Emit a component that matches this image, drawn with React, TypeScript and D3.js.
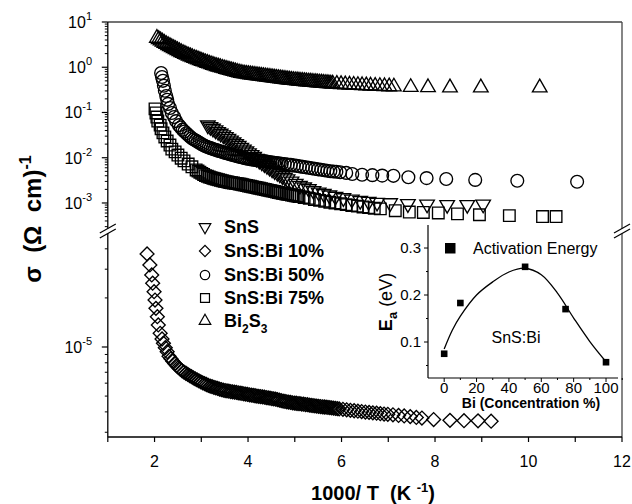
import React from "react";
import * as d3 from "d3";

const W = 632;
const H = 504;
const FONT = "'Liberation Sans', Arial, sans-serif";

const snsLog: [number, number][] = [
  [3.14, -1.28], [3.195, -1.317], [3.25, -1.353], [3.305, -1.39], [3.36, -1.427], [3.415, -1.463],
  [3.47, -1.5], [3.525, -1.538], [3.58, -1.577], [3.635, -1.616], [3.69, -1.656], [3.745, -1.695],
  [3.8, -1.734], [3.855, -1.774], [3.91, -1.815], [3.965, -1.855], [4.02, -1.896], [4.075, -1.937],
  [4.13, -1.978], [4.185, -2.019], [4.24, -2.059], [4.295, -2.098], [4.35, -2.137], [4.405, -2.176],
  [4.46, -2.216], [4.515, -2.255], [4.57, -2.293], [4.625, -2.329], [4.68, -2.365], [4.735, -2.401],
  [4.79, -2.437], [4.845, -2.473], [4.93, -2.52], [5.02, -2.57], [5.11, -2.615], [5.2, -2.652],
  [5.3, -2.69], [5.4, -2.73], [5.51, -2.764], [5.62, -2.796], [5.74, -2.828], [5.87, -2.857],
  [6.04, -2.89], [6.22, -2.92], [6.4, -2.95], [6.58, -2.97], [6.76, -2.99], [7.04, -3.0],
  [7.42, -3.02], [7.83, -3.03], [8.26, -3.04], [8.69, -3.04], [9.03, -3.03],
];

const bi10Log: [number, number][] = [
  [1.84, -4.429], [1.9, -4.497], [1.94, -4.558], [1.96, -4.609], [1.99, -4.661], [2.01, -4.712],
  [2.03, -4.763], [2.06, -4.814], [2.08, -4.865], [2.12, -4.916], [2.16, -4.951], [2.19, -4.977],
  [2.23, -5.004], [2.27, -5.029], [2.31, -5.056], [2.35, -5.072], [2.39, -5.087], [2.43, -5.101],
  [2.47, -5.114], [2.51, -5.125], [2.55, -5.136], [2.59, -5.146], [2.63, -5.154], [2.67, -5.161],
  [2.71, -5.168], [2.75, -5.176], [2.79, -5.182], [2.83, -5.189], [2.87, -5.196], [2.91, -5.202],
  [2.95, -5.208], [2.99, -5.214], [3.03, -5.22], [3.07, -5.225], [3.11, -5.23], [3.15, -5.236],
  [3.19, -5.24], [3.23, -5.243], [3.27, -5.247], [3.31, -5.251], [3.35, -5.254], [3.39, -5.258],
  [3.43, -5.261], [3.47, -5.265], [3.51, -5.267], [3.55, -5.269], [3.59, -5.271], [3.63, -5.273],
  [3.67, -5.275], [3.71, -5.277], [3.75, -5.279], [3.79, -5.281], [3.83, -5.283], [3.87, -5.285],
  [3.91, -5.287], [3.95, -5.289], [3.99, -5.291], [4.03, -5.293], [4.07, -5.295], [4.11, -5.297],
  [4.15, -5.299], [4.19, -5.301], [4.23, -5.303], [4.27, -5.304], [4.31, -5.306], [4.35, -5.308],
  [4.39, -5.31], [4.43, -5.312], [4.47, -5.314], [4.51, -5.316], [4.55, -5.318], [4.59, -5.32],
  [4.63, -5.323], [4.67, -5.326], [4.71, -5.329], [4.75, -5.332], [4.79, -5.334], [4.83, -5.336],
  [4.87, -5.338], [4.91, -5.34], [4.95, -5.342], [4.99, -5.344], [5.03, -5.345], [5.07, -5.347],
  [5.11, -5.348], [5.15, -5.35], [5.19, -5.351], [5.23, -5.353], [5.27, -5.354], [5.31, -5.356],
  [5.35, -5.358], [5.39, -5.359], [5.43, -5.361], [5.47, -5.362], [5.51, -5.364], [5.55, -5.365],
  [5.59, -5.367], [5.63, -5.368], [5.67, -5.369], [5.71, -5.371], [5.75, -5.372], [5.79, -5.374],
  [5.83, -5.375], [5.87, -5.377], [5.91, -5.378], [5.95, -5.38], [6.03, -5.382], [6.11, -5.385],
  [6.19, -5.388], [6.27, -5.391], [6.35, -5.394], [6.43, -5.396], [6.51, -5.399], [6.59, -5.401],
  [6.67, -5.404], [6.75, -5.406], [6.83, -5.409], [6.91, -5.411], [6.99, -5.413], [7.1, -5.416],
  [7.22, -5.42], [7.34, -5.423], [7.47, -5.427], [7.6, -5.432], [7.72, -5.436], [7.97, -5.445],
  [8.32, -5.45], [8.62, -5.452], [8.92, -5.453], [9.2, -5.455],
];

const bi50Log: [number, number][] = [
  [2.14, -0.127], [2.16, -0.215], [2.18, -0.3], [2.2, -0.41], [2.22, -0.52], [2.25, -0.635],
  [2.27, -0.72], [2.29, -0.81], [2.33, -0.9], [2.37, -1.01], [2.42, -1.1], [2.46, -1.19], [2.52, -1.28],
  [2.56, -1.33], [2.6, -1.38], [2.64, -1.42], [2.68, -1.46], [2.72, -1.5], [2.76, -1.535], [2.8, -1.57],
  [2.84, -1.597], [2.88, -1.62], [2.92, -1.645], [2.96, -1.67], [3.0, -1.695], [3.04, -1.72],
  [3.08, -1.74], [3.12, -1.757], [3.16, -1.773], [3.2, -1.788], [3.24, -1.803], [3.28, -1.818],
  [3.32, -1.831], [3.36, -1.844], [3.4, -1.856], [3.44, -1.869], [3.48, -1.882], [3.52, -1.894],
  [3.56, -1.907], [3.6, -1.92], [3.64, -1.931], [3.68, -1.942], [3.72, -1.953], [3.76, -1.964],
  [3.8, -1.975], [3.84, -1.985], [3.88, -1.996], [3.92, -2.007], [3.96, -2.016], [4.0, -2.023],
  [4.04, -2.03], [4.08, -2.037], [4.12, -2.045], [4.16, -2.051], [4.2, -2.057], [4.24, -2.062],
  [4.28, -2.068], [4.32, -2.073], [4.36, -2.079], [4.4, -2.085], [4.44, -2.093], [4.48, -2.1],
  [4.52, -2.105], [4.56, -2.111], [4.6, -2.116], [4.64, -2.122], [4.68, -2.127], [4.72, -2.133],
  [4.785, -2.142], [4.85, -2.15], [4.915, -2.159], [4.98, -2.17], [5.045, -2.181], [5.11, -2.192],
  [5.175, -2.203], [5.24, -2.213], [5.305, -2.224], [5.37, -2.235], [5.435, -2.246], [5.5, -2.257],
  [5.565, -2.267], [5.63, -2.278], [5.695, -2.289], [5.76, -2.3], [5.825, -2.305], [5.89, -2.31],
  [5.97, -2.32], [6.1, -2.335], [6.23, -2.36], [6.44, -2.375], [6.66, -2.385], [6.87, -2.395],
  [7.11, -2.4], [7.43, -2.43], [7.82, -2.45], [8.24, -2.47], [8.86, -2.49], [9.76, -2.51], [11.04, -2.53],
];

const bi75Log: [number, number][] = [
  [2.01, -0.92], [2.03, -1.01], [2.05, -1.1], [2.07, -1.19], [2.12, -1.28], [2.14, -1.36], [2.18, -1.45],
  [2.22, -1.54], [2.27, -1.63], [2.33, -1.72], [2.37, -1.81], [2.44, -1.87], [2.5, -1.94], [2.57, -2.01],
  [2.63, -2.07], [2.72, -2.14], [2.8, -2.2], [2.89, -2.27], [2.93, -2.295], [2.97, -2.32], [3.01, -2.345],
  [3.05, -2.37], [3.09, -2.395], [3.13, -2.41], [3.17, -2.426], [3.21, -2.44], [3.25, -2.452],
  [3.29, -2.465], [3.33, -2.477], [3.37, -2.488], [3.41, -2.498], [3.45, -2.508], [3.49, -2.518],
  [3.53, -2.528], [3.57, -2.538], [3.61, -2.546], [3.65, -2.553], [3.69, -2.56], [3.73, -2.567],
  [3.77, -2.573], [3.81, -2.58], [3.85, -2.587], [3.89, -2.596], [3.93, -2.605], [3.97, -2.614],
  [4.01, -2.623], [4.05, -2.632], [4.09, -2.641], [4.13, -2.649], [4.17, -2.658], [4.21, -2.667],
  [4.25, -2.676], [4.29, -2.685], [4.33, -2.694], [4.37, -2.703], [4.41, -2.712], [4.45, -2.721],
  [4.49, -2.729], [4.53, -2.738], [4.57, -2.747], [4.61, -2.757], [4.65, -2.767], [4.69, -2.776],
  [4.73, -2.784], [4.77, -2.792], [4.81, -2.8], [4.85, -2.808], [4.89, -2.816], [4.93, -2.824],
  [4.97, -2.832], [5.01, -2.84], [5.05, -2.848], [5.09, -2.856], [5.2, -2.877], [5.31, -2.898],
  [5.42, -2.922], [5.53, -2.942], [5.64, -2.962], [5.75, -2.982], [5.86, -3.0], [5.98, -3.017],
  [6.1, -3.036], [6.22, -3.054], [6.34, -3.07], [6.46, -3.087], [6.58, -3.103], [6.7, -3.117],
  [6.83, -3.13], [7.15, -3.17], [7.45, -3.2], [7.75, -3.21], [8.07, -3.22], [8.48, -3.24], [8.95, -3.26],
  [9.59, -3.28], [10.3, -3.3], [10.59, -3.3],
];

const bi2s3Log: [number, number][] = [
  [2.05, 0.646], [2.09, 0.618], [2.13, 0.589], [2.17, 0.561], [2.21, 0.534], [2.25, 0.51], [2.29, 0.486],
  [2.33, 0.462], [2.37, 0.439], [2.41, 0.417], [2.45, 0.395], [2.49, 0.373], [2.53, 0.351], [2.57, 0.33],
  [2.61, 0.311], [2.65, 0.292], [2.69, 0.273], [2.73, 0.254], [2.77, 0.235], [2.81, 0.218], [2.85, 0.201],
  [2.89, 0.185], [2.93, 0.169], [2.97, 0.152], [3.01, 0.136], [3.05, 0.122], [3.09, 0.107], [3.13, 0.092],
  [3.17, 0.078], [3.21, 0.063], [3.25, 0.048], [3.29, 0.034], [3.33, 0.021], [3.37, 0.009], [3.41, -0.003],
  [3.45, -0.015], [3.49, -0.027], [3.53, -0.039], [3.57, -0.051], [3.61, -0.063], [3.65, -0.074],
  [3.69, -0.085], [3.73, -0.096], [3.77, -0.108], [3.81, -0.119], [3.85, -0.13], [3.89, -0.136],
  [3.93, -0.143], [3.97, -0.149], [4.01, -0.156], [4.05, -0.162], [4.09, -0.168], [4.13, -0.174],
  [4.17, -0.179], [4.21, -0.185], [4.25, -0.19], [4.29, -0.195], [4.33, -0.201], [4.37, -0.206],
  [4.41, -0.211], [4.45, -0.217], [4.49, -0.223], [4.53, -0.228], [4.57, -0.234], [4.61, -0.239],
  [4.65, -0.245], [4.69, -0.251], [4.73, -0.256], [4.77, -0.262], [4.81, -0.267], [4.85, -0.273],
  [4.89, -0.279], [4.93, -0.283], [4.97, -0.287], [5.01, -0.291], [5.05, -0.295], [5.09, -0.299],
  [5.13, -0.303], [5.17, -0.307], [5.21, -0.311], [5.25, -0.315], [5.29, -0.319], [5.33, -0.323],
  [5.37, -0.327], [5.41, -0.331], [5.45, -0.334], [5.49, -0.338], [5.53, -0.341], [5.57, -0.345],
  [5.61, -0.349], [5.65, -0.352], [5.69, -0.356], [5.73, -0.359], [5.77, -0.363], [5.81, -0.366],
  [5.9, -0.372], [5.99, -0.377], [6.08, -0.382], [6.17, -0.387], [6.26, -0.391], [6.35, -0.396],
  [6.44, -0.401], [6.53, -0.406], [6.62, -0.411], [6.72, -0.415], [6.82, -0.419], [6.92, -0.423],
  [7.02, -0.427], [7.12, -0.43], [7.48, -0.44], [7.85, -0.445], [8.32, -0.45], [8.98, -0.45], [10.24, -0.45],
];

const legendLabels = ["SnS", "SnS:Bi 10%", "SnS:Bi 50%", "SnS:Bi 75%", "Bi2S3"];

// axis ticks
const xMajor = [2, 4, 6, 8, 10, 12];
const xMinor = [1, 3, 5, 7, 9, 11];
const upperMajor = [10, 1, 0.1, 0.01, 0.001];
const upperExp = ["1", "0", "-1", "-2", "-3"];
const lowerMajor = [1e-5];
const lowerExp = ["-5"];

// inset: activation energy vs Bi concentration
const insetConc = [0, 10, 50, 75, 100];
const insetEa = [0.075, 0.183, 0.26, 0.17, 0.057];
const fitConc = [0, 5, 10, 20, 30, 40, 50, 60, 70, 80, 90, 100];
const fitEa = [0.085, 0.125, 0.155, 0.2, 0.228, 0.249, 0.257, 0.243, 0.204, 0.151, 0.101, 0.058];
const insetXTicks = [0, 20, 40, 60, 80, 100];
const insetYTicks = [0.1, 0.2, 0.3];

const x = d3.scaleLinear().domain([1, 12]).range([107.8, 622]);
const yUp = d3.scaleLog().domain([Math.pow(10, -3.553), 10]).range([228, 22]);
const yLo = d3.scaleLog().domain([Math.pow(10, -5.552), Math.pow(10, -4.307)]).range([437, 234]);

const xIn = d3.scaleLinear().domain([-10, 107.4]).range([428, 618]);
const yIn = d3.scaleLinear().domain([0.0234, 0.349]).range([378, 225]);

const toSigma = (arr: [number, number][]) => arr.map(([t, l]) => [t, Math.pow(10, l)] as [number, number]);

const minorLog = (lo: number, hi: number) => {
  const out: number[] = [];
  for (let e = Math.floor(Math.log10(lo)); e <= Math.ceil(Math.log10(hi)); e++) {
    for (let k = 2; k <= 9; k++) {
      const v = k * Math.pow(10, e);
      if (v >= lo && v <= hi) out.push(v);
    }
  }
  return out;
};

const triUp = d3.symbol(d3.symbolTriangle, 92)()!;
const circle = d3.symbol(d3.symbolCircle, 128)()!;
const square = d3.symbol(d3.symbolSquare, 134)()!;
const diamond = d3.symbol(d3.symbolSquare, 96)()!;

const triUpSm = d3.symbol(d3.symbolTriangle, 58)()!;
const circleSm = d3.symbol(d3.symbolCircle, 70)()!;
const squareSm = d3.symbol(d3.symbolSquare, 80)()!;
const diamondSm = d3.symbol(d3.symbolSquare, 62)()!;

const markerStyle = { fill: "none", stroke: "#000", strokeWidth: 1.35 };
const legendMarker = { fill: "none", stroke: "#000", strokeWidth: 1.2 };

function Series({ data, y, path, rotate }: { data: [number, number][]; y: any; path: string; rotate: number }) {
  return (
    <g>
      {toSigma(data).map((d, i) => (
        <path key={i} d={path} transform={`translate(${x(d[0])},${y(d[1])}) rotate(${rotate})`} {...markerStyle} />
      ))}
    </g>
  );
}

function BreakMark({ cx, cy }: { cx: number; cy: number }) {
  const a = 8, b = 4.5, g = 2.6;
  return (
    <g>
      <polygon points={`${cx - a},${cy - g + b} ${cx + a},${cy - g - b} ${cx + a},${cy + g - b} ${cx - a},${cy + g + b}`} fill="#fff" />
      <line x1={cx - a} y1={cy - g + b} x2={cx + a} y2={cy - g - b} stroke="#000" strokeWidth={1.2} />
      <line x1={cx - a} y1={cy + g + b} x2={cx + a} y2={cy + g - b} stroke="#000" strokeWidth={1.2} />
    </g>
  );
}

export default function App() {
  const x0 = x.range()[0];
  const x1 = x.range()[1];
  const top = 22;
  const bottom = 437;
  const upMinor = minorLog(yUp.domain()[0], yUp.domain()[1]);
  const loMinor = minorLog(yLo.domain()[0], yLo.domain()[1]);

  const fitLine = d3
    .line<number>()
    .x((_, i) => xIn(fitConc[i]))
    .y((d) => yIn(d))
    .curve(d3.curveCatmullRom.alpha(0.5));

  const legendY = [227, 251, 275, 298, 321];
  const legendSyms = [
    { p: triUpSm, r: 180 },
    { p: diamondSm, r: 45 },
    { p: circleSm, r: 0 },
    { p: squareSm, r: 0 },
    { p: triUpSm, r: 0 },
  ];

  return (
    <svg width={W} height={H} style={{ position: "absolute", left: 0, top: 0, background: "#fff" }} fontFamily={FONT}>
      {/* data */}
      <Series data={bi10Log} y={yLo} path={diamond} rotate={45} />
      <Series data={snsLog} y={yUp} path={triUp} rotate={180} />
      <Series data={bi75Log} y={yUp} path={square} rotate={0} />
      <Series data={bi50Log} y={yUp} path={circle} rotate={0} />
      <Series data={bi2s3Log} y={yUp} path={triUp} rotate={0} />

      {/* frame */}
      <line x1={x0} y1={top} x2={x1} y2={top} stroke="#444" strokeWidth={1.3} />
      <line x1={x1} y1={top} x2={x1} y2={bottom} stroke="#444" strokeWidth={1.3} />
      <line x1={x0} y1={top} x2={x0} y2={bottom} stroke="#000" strokeWidth={1.3} />
      <line x1={x0} y1={bottom} x2={x1} y2={bottom} stroke="#000" strokeWidth={1.3} />

      {/* x ticks */}
      {xMajor.concat(xMinor).map((t) => (
        <line key={"xt" + t} x1={x(t)} x2={x(t)} y1={bottom} y2={bottom + 5} stroke="#000" strokeWidth={1.2} />
      ))}
      {xMajor.map((t) => (
        <text key={"xl" + t} x={x(t)} y={467} fontSize={16} textAnchor="middle">{t}</text>
      ))}

      {/* y ticks, upper segment */}
      {upperMajor.map((t) => (
        <line key={"um" + t} x1={x0 - 6} x2={x0} y1={yUp(t)} y2={yUp(t)} stroke="#000" strokeWidth={1.2} />
      ))}
      {upMinor.map((t, i) => (
        <line key={"un" + i} x1={x0 - 3} x2={x0} y1={yUp(t)} y2={yUp(t)} stroke="#000" strokeWidth={1} />
      ))}
      {upperMajor.map((t, i) => (
        <text key={"ul" + t} x={92} y={yUp(t) + 6} fontSize={16} textAnchor="end">
          10<tspan dy={-8} fontSize={11}>{upperExp[i]}</tspan>
        </text>
      ))}

      {/* y ticks, lower segment */}
      {lowerMajor.map((t) => (
        <line key={"lm" + t} x1={x0 - 6} x2={x0} y1={yLo(t)} y2={yLo(t)} stroke="#000" strokeWidth={1.2} />
      ))}
      {loMinor.map((t, i) => (
        <line key={"ln" + i} x1={x0 - 3} x2={x0} y1={yLo(t)} y2={yLo(t)} stroke="#000" strokeWidth={1} />
      ))}
      {lowerMajor.map((t, i) => (
        <text key={"ll" + t} x={92} y={yLo(t) + 6} fontSize={16} textAnchor="end">
          10<tspan dy={-8} fontSize={11}>{lowerExp[i]}</tspan>
        </text>
      ))}

      <BreakMark cx={x0} cy={231} />
      <BreakMark cx={x1} cy={231} />

      {/* axis titles */}
      <text x={373} y={500} fontSize={20} fontWeight="bold" textAnchor="middle" style={{ whiteSpace: "pre" }}>
        {"1000/ T  (K "}<tspan dy={-8} fontSize={13}>-1</tspan><tspan dy={8}>)</tspan>
      </text>
      <text transform="translate(41,219) rotate(-90)" fontSize={24} fontWeight="bold" textAnchor="middle" style={{ whiteSpace: "pre" }}>
        {"σ  (Ω  cm)"}<tspan dy={-10} fontSize={16}>-1</tspan>
      </text>

      {/* legend */}
      {legendLabels.map((lab, i) => (
        <g key={lab}>
          <path d={legendSyms[i].p} transform={`translate(205,${legendY[i]}) rotate(${legendSyms[i].r})`} {...legendMarker} />
          {lab === "Bi2S3" ? (
            <text x={224} y={legendY[i] + 6} fontSize={18} fontWeight="bold">
              Bi<tspan dy={6} fontSize={12}>2</tspan><tspan dy={-6}>S</tspan><tspan dy={6} fontSize={12}>3</tspan>
            </text>
          ) : (
            <text x={224} y={legendY[i] + 6} fontSize={18} fontWeight="bold">{lab}</text>
          )}
        </g>
      ))}

      {/* inset */}
      <g>
        <line x1={xIn.range()[0]} x2={xIn.range()[0]} y1={yIn.range()[1]} y2={yIn.range()[0]} stroke="#000" strokeWidth={1.2} />
        <line x1={xIn.range()[0]} x2={xIn.range()[1]} y1={yIn.range()[0]} y2={yIn.range()[0]} stroke="#000" strokeWidth={1.2} />
        {insetXTicks.map((t) => (
          <g key={"ix" + t}>
            <line x1={xIn(t)} x2={xIn(t)} y1={378} y2={382} stroke="#000" />
            <line x1={xIn(t + 10)} x2={xIn(t + 10)} y1={378} y2={380} stroke="#000" />
            <text x={xIn(t)} y={393} fontSize={15} textAnchor="middle">{t}</text>
          </g>
        ))}
        {insetYTicks.map((t) => (
          <g key={"iy" + t}>
            <line x1={424} x2={428} y1={yIn(t)} y2={yIn(t)} stroke="#000" />
            <line x1={426} x2={428} y1={yIn(t - 0.05)} y2={yIn(t - 0.05)} stroke="#000" />
            <text x={421} y={yIn(t) + 5} fontSize={15} textAnchor="end">{t.toFixed(1)}</text>
          </g>
        ))}
        <line x1={426} x2={428} y1={yIn(0.25)} y2={yIn(0.25)} stroke="#000" />
        <path d={fitLine(fitEa) || ""} fill="none" stroke="#000" strokeWidth={1.3} />
        {insetConc.map((c, i) => (
          <rect key={"ip" + c} x={xIn(c) - 3.3} y={yIn(insetEa[i]) - 3.3} width={6.6} height={6.6} fill="#000" />
        ))}
        <rect x={445} y={243} width={10.5} height={10.5} fill="#000" />
        <text x={473} y={254} fontSize={16}>Activation Energy</text>
        <text x={516} y={343} fontSize={16} textAnchor="middle">SnS:Bi</text>
        <text x={531} y={408} fontSize={14} fontWeight="bold" textAnchor="middle">Bi (Concentration %)</text>
        <text transform="translate(392,302) rotate(-90)" fontSize={18} textAnchor="middle">
          <tspan fontWeight="bold">E</tspan><tspan dy={5} fontSize={13} fontWeight="bold">a</tspan><tspan dy={-5}> (eV)</tspan>
        </text>
      </g>
    </svg>
  );
}
